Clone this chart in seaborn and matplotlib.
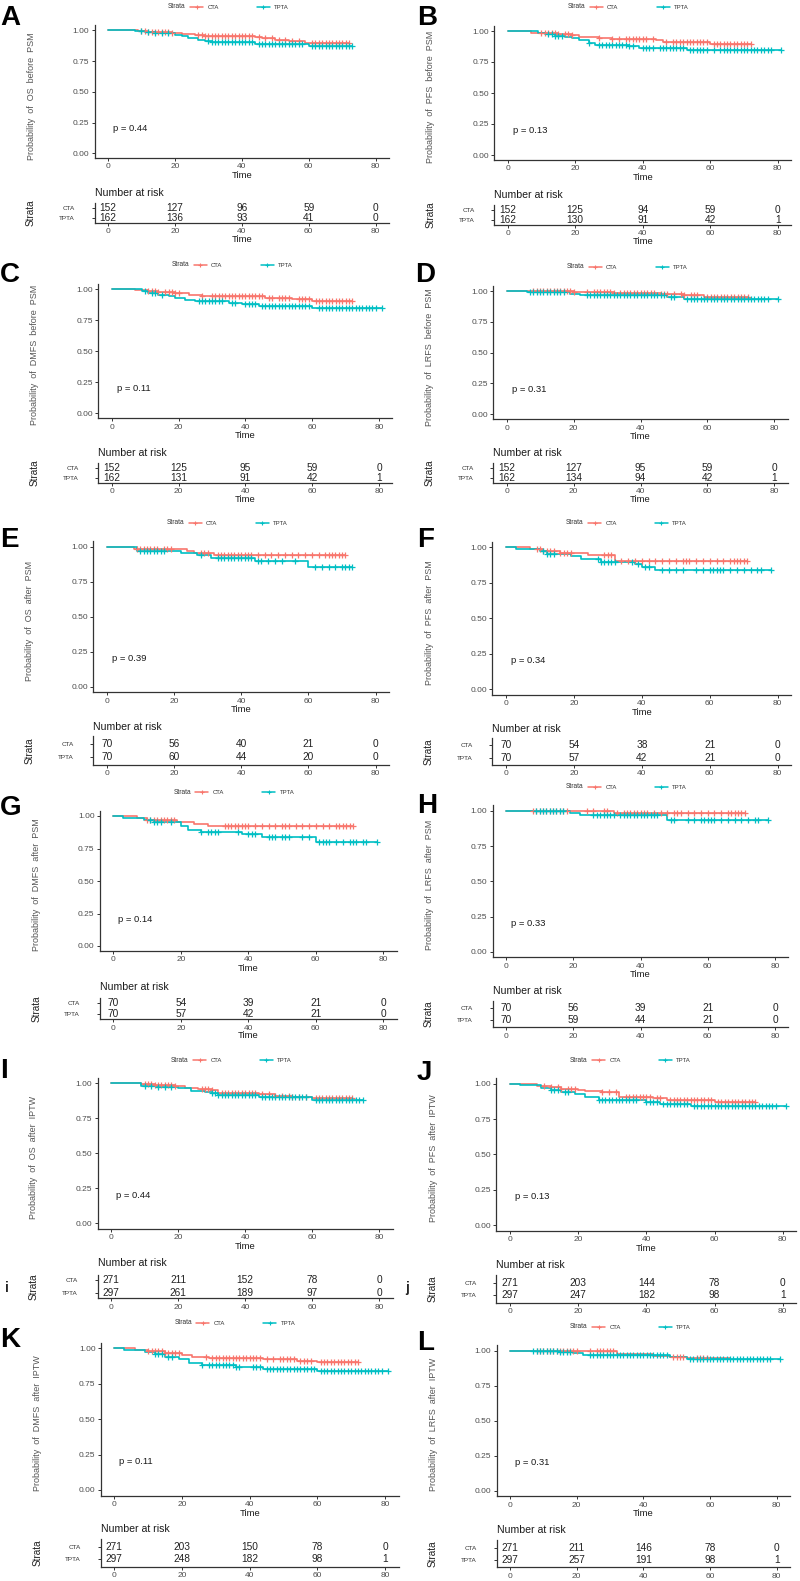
import numpy as np
import matplotlib
matplotlib.use("Agg")
import matplotlib.pyplot as plt
from matplotlib.lines import Line2D
import seaborn as sns

sns.set_theme(style="ticks")
plt.rcParams["font.family"] = ["Liberation Sans", "DejaVu Sans"]

RED = "#F8766D"
TEAL = "#00BFC4"
GROUPS = ["CTA", "TPTA"]
RISK_TIMES = [0, 20, 40, 60, 80]

# ---------------- data ----------------
# step curves: times where survival drops (last entry = end of follow-up)
A_CTA_T = [0, 9, 12, 19, 22, 26, 29, 44, 46, 50, 54, 59, 72]
A_CTA_S = [1.0, 0.993, 0.986, 0.979, 0.972, 0.962, 0.954, 0.945, 0.935, 0.925, 0.913, 0.900, 0.900]
A_TPTA_T = [0, 8, 11, 14, 17, 20, 22, 24, 27, 29, 31, 44, 60, 73]
A_TPTA_S = [1.0, 0.994, 0.988, 0.981, 0.974, 0.962, 0.950, 0.937, 0.925, 0.917, 0.907, 0.889, 0.873, 0.873]
A_CTA_C = [10, 11, 12, 13, 14, 15, 16, 17, 18, 19, 27, 28, 29, 30, 31, 32, 33, 34, 35, 36, 37, 38, 39, 40, 41, 42, 43,
           45, 47, 49, 51, 53, 55, 57, 61, 62, 63, 64, 65, 66, 67, 68, 69, 70, 71, 72]
A_TPTA_C = [10, 12, 14, 16, 18, 30, 31, 32, 33, 34, 35, 36, 37, 38, 39, 40, 41, 42, 43, 45, 46, 47, 48, 49, 50, 51, 52,
            53, 54, 55, 56, 57, 58, 61, 62, 63, 64, 65, 66, 67, 68, 69, 70, 71, 72, 73]

B_CTA_T = [0, 7, 10, 15, 19, 21, 27, 31, 44, 46, 60, 72]
B_CTA_S = [1.0, 0.987, 0.980, 0.973, 0.965, 0.955, 0.946, 0.935, 0.925, 0.912, 0.895, 0.895]
B_TPTA_T = [0, 9, 11, 14, 17, 19, 21, 24, 26, 36, 39, 53, 81]
B_TPTA_S = [1.0, 0.987, 0.975, 0.963, 0.955, 0.940, 0.925, 0.906, 0.890, 0.878, 0.866, 0.847, 0.847]
B_CTA_C = [10, 11, 12, 13, 14, 15, 17, 18, 19, 27, 31, 33, 35, 36, 37, 38, 39, 40, 41, 43, 47, 49, 50, 51, 52, 53, 54,
           55, 56, 57, 58, 59, 61, 62, 63, 64, 65, 66, 67, 68, 69, 70, 71, 72]
B_TPTA_C = [12, 13, 14, 15, 16, 24, 27, 28, 29, 30, 31, 32, 33, 34, 35, 36, 37, 40, 41, 42, 43, 45, 46, 47, 48, 49, 50,
            51, 52, 54, 55, 56, 57, 58, 59, 61, 63, 64, 65, 66, 67, 68, 69, 70, 71, 72, 73, 74, 75, 76, 77, 78, 81]

C_CTA_T = [0, 7, 11, 14, 19, 23, 27, 46, 54, 60, 72]
C_CTA_S = [1.0, 0.990, 0.980, 0.975, 0.965, 0.955, 0.946, 0.930, 0.920, 0.900, 0.900]
C_TPTA_T = [0, 9, 11, 14, 17, 19, 22, 25, 35, 39, 44, 60, 81]
C_TPTA_S = [1.0, 0.985, 0.970, 0.955, 0.945, 0.930, 0.915, 0.903, 0.890, 0.879, 0.866, 0.845, 0.845]
C_CTA_C = [11, 12, 13, 14, 16, 17, 18, 19, 20, 27, 30, 31, 32, 33, 34, 35, 36, 37, 38, 39, 40, 41, 42, 43, 44, 45,
           47, 48, 50, 51, 52, 53, 56, 57, 58, 59, 61, 62, 63, 64, 65, 66, 67, 68, 69, 70, 71, 72]
C_TPTA_C = [10, 12, 13, 15, 26, 27, 28, 29, 30, 31, 32, 33, 36, 37, 40, 41, 42, 43, 45, 46, 47, 48, 49, 50, 51, 52,
            53, 54, 55, 56, 57, 58, 59, 62, 63, 64, 65, 66, 67, 68, 69, 70, 71, 72, 73, 74, 75, 76, 77, 78, 79, 81]

D_CTA_T = [0, 20, 32, 46, 53, 59, 72]
D_CTA_S = [1.0, 0.993, 0.985, 0.978, 0.970, 0.954, 0.954]
D_TPTA_T = [0, 6, 15, 19, 22, 48, 53, 81]
D_TPTA_S = [1.0, 0.994, 0.990, 0.978, 0.968, 0.954, 0.938, 0.938]
D_CTA_C = [8, 9, 10, 11, 12, 13, 14, 15, 16, 17, 18, 19, 20, 24, 26, 27, 28, 29, 30, 31, 32, 34, 35, 36, 37, 38, 39,
           40, 41, 42, 43, 44, 46, 47, 48, 50, 52, 53, 55, 56, 57, 60, 61, 62, 63, 64, 65, 66, 67, 68, 69, 70, 71, 72]
D_TPTA_C = [7, 8, 9, 10, 11, 12, 13, 14, 15, 16, 17, 24, 25, 26, 27, 28, 29, 30, 31, 32, 33, 34, 35, 36, 37, 38, 39,
            40, 41, 42, 43, 44, 45, 46, 47, 49, 50, 54, 55, 56, 57, 58, 59, 60, 61, 62, 63, 64, 65, 66, 67, 68, 69,
            70, 71, 72, 73, 74, 75, 76, 77, 78, 81]

E_CTA_T = [0, 8, 24, 26, 32, 71]
E_CTA_S = [1.0, 0.986, 0.971, 0.957, 0.940, 0.940]
E_TPTA_T = [0, 9, 22, 27, 31, 44, 60, 73]
E_TPTA_S = [1.0, 0.971, 0.955, 0.940, 0.921, 0.898, 0.852, 0.852]
E_CTA_C = [9, 10, 11, 12, 13, 14, 15, 17, 18, 19, 28, 29, 30, 33, 34, 35, 36, 37, 38, 39, 40, 41, 42, 43, 45, 47,
           49, 51, 53, 55, 57, 59, 61, 63, 65, 66, 67, 68, 69, 70, 71]
E_TPTA_C = [10, 11, 12, 13, 14, 15, 16, 17, 28, 33, 34, 35, 36, 37, 38, 39, 40, 41, 42, 43, 45, 46, 48, 50, 52, 56,
            62, 64, 66, 68, 70, 71, 72, 73]

F_CTA_T = [0, 7, 11, 16, 24, 32, 71]
F_CTA_S = [1.0, 0.986, 0.972, 0.958, 0.944, 0.906, 0.906]
F_TPTA_T = [0, 3, 10, 12, 19, 22, 28, 38, 40, 44, 78]
F_TPTA_S = [1.0, 0.985, 0.971, 0.956, 0.940, 0.915, 0.899, 0.880, 0.861, 0.840, 0.840]
F_CTA_C = [9, 10, 11, 12, 13, 14, 16, 17, 18, 19, 29, 30, 31, 34, 36, 38, 40, 42, 44, 46, 48, 50, 52, 53, 54, 56,
           58, 60, 62, 64, 66, 67, 68, 69, 70, 71]
F_TPTA_C = [11, 12, 13, 14, 27, 28, 29, 30, 31, 32, 37, 39, 41, 42, 46, 48, 50, 52, 56, 58, 60, 61, 62, 63, 64, 66,
            68, 70, 72, 74, 75, 78]

G_CTA_T = [0, 7, 10, 19, 24, 28, 71]
G_CTA_S = [1.0, 0.985, 0.970, 0.955, 0.941, 0.923, 0.923]
G_TPTA_T = [0, 3, 9, 12, 20, 22, 26, 38, 44, 60, 78]
G_TPTA_S = [1.0, 0.985, 0.970, 0.952, 0.926, 0.892, 0.880, 0.863, 0.841, 0.800, 0.800]
G_CTA_C = [10, 11, 12, 13, 14, 15, 16, 17, 18, 33, 34, 35, 36, 37, 38, 39, 40, 42, 44, 46, 48, 50, 51, 52, 54, 56,
           58, 60, 62, 64, 66, 67, 68, 69, 70, 71]
G_TPTA_C = [11, 12, 13, 14, 17, 26, 28, 29, 30, 31, 37, 40, 41, 42, 46, 47, 48, 50, 51, 52, 56, 58, 61, 62, 63, 64,
            66, 68, 70, 71, 72, 74, 75, 78]

H_CTA_T = [0, 32, 71]
H_CTA_S = [1.0, 0.983, 0.983]
H_TPTA_T = [0, 19, 22, 48, 78]
H_TPTA_S = [1.0, 0.985, 0.969, 0.936, 0.936]
H_CTA_C = [8, 9, 10, 11, 12, 13, 14, 15, 16, 17, 18, 24, 26, 29, 30, 33, 35, 36, 37, 38, 39, 40, 41, 42, 44, 46, 48,
           50, 51, 52, 54, 56, 58, 60, 62, 64, 66, 67, 68, 69, 70, 71]
H_TPTA_C = [9, 10, 11, 12, 13, 14, 15, 16, 17, 26, 27, 28, 29, 30, 31, 32, 34, 35, 36, 37, 38, 39, 40, 41, 42, 43,
            44, 45, 49, 50, 54, 56, 58, 59, 60, 61, 62, 64, 66, 68, 70, 72, 74, 75, 78]

I_CTA_T = [0, 9, 13, 19, 22, 26, 30, 32, 44, 49, 54, 60, 72]
I_CTA_S = [1.0, 0.993, 0.988, 0.980, 0.969, 0.960, 0.950, 0.933, 0.921, 0.912, 0.905, 0.895, 0.895]
I_TPTA_T = [0, 9, 14, 20, 24, 28, 30, 32, 44, 60, 75]
I_TPTA_S = [1.0, 0.983, 0.975, 0.964, 0.948, 0.938, 0.928, 0.917, 0.900, 0.881, 0.881]
I_CTA_C = [10, 11, 12, 13, 14, 15, 16, 17, 18, 19, 27, 28, 29, 30, 33, 34, 35, 36, 37, 38, 39, 40, 41, 42, 43, 45,
           47, 49, 51, 53, 54, 56, 58, 61, 62, 63, 64, 65, 66, 67, 68, 69, 70, 71, 72]
I_TPTA_C = [10, 12, 14, 16, 18, 30, 31, 32, 33, 34, 35, 36, 37, 38, 39, 40, 41, 42, 43, 45, 46, 47, 48, 49, 50, 51,
            52, 53, 54, 55, 56, 57, 58, 61, 62, 63, 64, 65, 66, 67, 68, 69, 70, 71, 72, 73, 74, 75]

J_CTA_T = [0, 4, 8, 12, 15, 20, 22, 27, 32, 42, 46, 60, 72]
J_CTA_S = [1.0, 0.995, 0.985, 0.975, 0.965, 0.955, 0.948, 0.939, 0.906, 0.896, 0.884, 0.873, 0.873]
J_TPTA_T = [0, 3, 9, 12, 15, 19, 22, 26, 40, 44, 53, 81]
J_TPTA_S = [1.0, 0.990, 0.972, 0.955, 0.941, 0.927, 0.908, 0.882, 0.873, 0.856, 0.842, 0.842]
J_CTA_C = [10, 12, 14, 15, 17, 18, 19, 27, 29, 31, 34, 35, 36, 37, 38, 39, 40, 41, 43, 44, 47, 48, 49, 50, 51, 52,
           53, 54, 55, 56, 57, 58, 59, 61, 62, 63, 64, 65, 66, 67, 68, 69, 70, 71, 72]
J_TPTA_C = [12, 13, 14, 16, 17, 26, 27, 28, 29, 30, 31, 32, 33, 34, 35, 36, 37, 40, 41, 42, 43, 45, 46, 47, 48, 49,
            50, 51, 52, 54, 55, 56, 57, 58, 59, 60, 61, 62, 63, 64, 65, 66, 67, 68, 69, 70, 71, 72, 73, 74, 75, 76,
            77, 78, 81]

K_CTA_T = [0, 6, 10, 15, 20, 23, 28, 44, 54, 60, 72]
K_CTA_S = [1.0, 0.990, 0.981, 0.965, 0.950, 0.941, 0.929, 0.922, 0.912, 0.901, 0.901]
K_TPTA_T = [0, 3, 9, 12, 15, 19, 22, 26, 36, 44, 60, 81]
K_TPTA_S = [1.0, 0.990, 0.976, 0.958, 0.941, 0.922, 0.894, 0.880, 0.871, 0.856, 0.840, 0.840]
K_CTA_C = [10, 11, 12, 13, 14, 15, 16, 17, 18, 19, 27, 29, 30, 31, 32, 33, 34, 35, 36, 37, 38, 39, 40, 41, 42, 43,
           45, 47, 49, 50, 51, 52, 53, 55, 56, 57, 58, 61, 62, 63, 64, 65, 66, 67, 68, 69, 70, 71, 72]
K_TPTA_C = [12, 13, 14, 16, 17, 26, 28, 29, 30, 31, 32, 33, 34, 35, 36, 37, 41, 42, 43, 45, 46, 47, 48, 49, 50, 51,
            52, 53, 54, 55, 56, 57, 58, 59, 61, 62, 63, 64, 65, 66, 67, 68, 69, 70, 71, 72, 73, 74, 75, 76, 77, 78,
            79, 81]

L_CTA_T = [0, 32, 43, 48, 53, 66]
L_CTA_S = [1.0, 0.976, 0.960, 0.955, 0.945, 0.945]
L_TPTA_T = [0, 6, 15, 19, 22, 48, 53, 81]
L_TPTA_S = [1.0, 0.995, 0.990, 0.981, 0.969, 0.955, 0.938, 0.938]
L_CTA_C = [8, 9, 10, 11, 12, 13, 14, 15, 16, 17, 18, 19, 20, 24, 26, 27, 28, 29, 30, 31, 49, 50, 51, 52, 56, 57,
           58, 59]
L_TPTA_C = [7, 8, 9, 10, 11, 12, 13, 14, 15, 16, 17, 18, 24, 25, 26, 27, 28, 29, 30, 31, 32, 33, 34, 35, 36, 37, 38,
            39, 40, 41, 42, 43, 44, 45, 46, 47, 54, 55, 56, 57, 58, 59, 60, 61, 62, 63, 64, 65, 66, 67, 68, 69, 70,
            71, 72, 73, 74, 75, 76, 77, 78, 81]

# number at risk at 0, 20, 40, 60, 80
A_RISK = [[152, 127, 96, 59, 0], [162, 136, 93, 41, 0]]
B_RISK = [[152, 125, 94, 59, 0], [162, 130, 91, 42, 1]]
C_RISK = [[152, 125, 95, 59, 0], [162, 131, 91, 42, 1]]
D_RISK = [[152, 127, 95, 59, 0], [162, 134, 94, 42, 1]]
E_RISK = [[70, 56, 40, 21, 0], [70, 60, 44, 20, 0]]
F_RISK = [[70, 54, 38, 21, 0], [70, 57, 42, 21, 0]]
G_RISK = [[70, 54, 39, 21, 0], [70, 57, 42, 21, 0]]
H_RISK = [[70, 56, 39, 21, 0], [70, 59, 44, 21, 0]]
I_RISK = [[271, 211, 152, 78, 0], [297, 261, 189, 97, 0]]
J_RISK = [[271, 203, 144, 78, 0], [297, 247, 182, 98, 1]]
K_RISK = [[271, 203, 150, 78, 0], [297, 248, 182, 98, 1]]
L_RISK = [[271, 211, 146, 78, 0], [297, 257, 191, 98, 1]]

PVALUES = ["0.44", "0.13", "0.11", "0.31", "0.39", "0.34", "0.14", "0.33", "0.44", "0.13", "0.11", "0.31"]

PANELS = [
    ("A", "OS", "before PSM", A_CTA_T, A_CTA_S, A_CTA_C, A_TPTA_T, A_TPTA_S, A_TPTA_C, A_RISK),
    ("B", "PFS", "before PSM", B_CTA_T, B_CTA_S, B_CTA_C, B_TPTA_T, B_TPTA_S, B_TPTA_C, B_RISK),
    ("C", "DMFS", "before PSM", C_CTA_T, C_CTA_S, C_CTA_C, C_TPTA_T, C_TPTA_S, C_TPTA_C, C_RISK),
    ("D", "LRFS", "before PSM", D_CTA_T, D_CTA_S, D_CTA_C, D_TPTA_T, D_TPTA_S, D_TPTA_C, D_RISK),
    ("E", "OS", "after PSM", E_CTA_T, E_CTA_S, E_CTA_C, E_TPTA_T, E_TPTA_S, E_TPTA_C, E_RISK),
    ("F", "PFS", "after PSM", F_CTA_T, F_CTA_S, F_CTA_C, F_TPTA_T, F_TPTA_S, F_TPTA_C, F_RISK),
    ("G", "DMFS", "after PSM", G_CTA_T, G_CTA_S, G_CTA_C, G_TPTA_T, G_TPTA_S, G_TPTA_C, G_RISK),
    ("H", "LRFS", "after PSM", H_CTA_T, H_CTA_S, H_CTA_C, H_TPTA_T, H_TPTA_S, H_TPTA_C, H_RISK),
    ("I", "OS", "after IPTW", I_CTA_T, I_CTA_S, I_CTA_C, I_TPTA_T, I_TPTA_S, I_TPTA_C, I_RISK),
    ("J", "PFS", "after IPTW", J_CTA_T, J_CTA_S, J_CTA_C, J_TPTA_T, J_TPTA_S, J_TPTA_C, J_RISK),
    ("K", "DMFS", "after IPTW", K_CTA_T, K_CTA_S, K_CTA_C, K_TPTA_T, K_TPTA_S, K_TPTA_C, K_RISK),
    ("L", "LRFS", "after IPTW", L_CTA_T, L_CTA_S, L_CTA_C, L_TPTA_T, L_TPTA_S, L_TPTA_C, L_RISK),
]

# ---------------- layout (pixels in the 800x1581 canvas) ----------------
# x0, x80, y100, y0, nar_y, cta_y, tpta_y, spine_y, legend_y, letter_x, letter_y, table_time
LAYOUT = [
    (108, 375.7, 30.3, 153.3, 193, 208, 218, 223, 7, 0, 5, True),
    (507.7, 777.7, 31, 155, 195, 210, 220, 225, 7, 417, 5, True),
    (111.7, 379, 289, 413.3, 453, 468, 478, 483, 265, 0, 262, True),
    (506.7, 774.3, 291, 414.3, 453, 468, 478, 483, 267, 415, 262, True),
    (106.7, 375.7, 546.7, 686.7, 726.7, 744, 756.7, 765, 523, 0, 527, False),
    (506, 777.7, 547.3, 689, 729, 745, 758.3, 765, 523, 417, 527, False),
    (113.3, 383.3, 816, 946, 987.3, 1003.3, 1014, 1019.3, 792, 0, 795, True),
    (506, 775, 811, 951.7, 990.7, 1008.3, 1020, 1027.3, 787, 417, 793, False),
    (111, 379.3, 1083.3, 1223.3, 1262.7, 1280, 1293.3, 1298.3, 1060, 0, 1058, False),
    (510, 782.7, 1083.7, 1225, 1265.3, 1282.7, 1295, 1302.7, 1060, 417, 1060, False),
    (114.3, 385, 1348.3, 1490, 1529.3, 1546.7, 1559.3, 1566.7, 1323, 0, 1327, False),
    (510, 776.7, 1350.7, 1490.7, 1530, 1547.7, 1560, 1567.3, 1327, 417, 1330, False),
]

W, H = 800, 1581
XMIN, XMAX = -4, 84
YPAD = 0.04
AXIS_COL = "#333333"
TICK_COL = "#4D4D4D"


def fx(x):
    return x / W


def fy(y):
    return 1 - y / H


def rect(left, top, right, bottom):
    return [fx(left), fy(bottom), (right - left) / W, (bottom - top) / H]


def surv_at(times, surv, pts):
    idx = np.searchsorted(np.asarray(times), np.asarray(pts), side="right") - 1
    return np.asarray(surv)[idx]


def style_axes(ax):
    sns.despine(ax=ax)
    for side in ("left", "bottom"):
        ax.spines[side].set_color(AXIS_COL)
        ax.spines[side].set_linewidth(0.9)
    ax.tick_params(axis="both", length=2.2, width=0.7, color=AXIS_COL,
                   labelsize=6.0, labelcolor=TICK_COL, pad=1.6)
    ax.set_xlim(XMIN, XMAX)
    ax.set_xticks(RISK_TIMES)
    ax.set_xlabel("")
    ax.set_ylabel("")


fig = plt.figure(figsize=(W / 100, H / 100), dpi=100)

for i, (panel, geo) in enumerate(zip(PANELS, LAYOUT)):
    label, endpoint, stage, ct, cs, cc, tt, ts, tc, risk = panel
    x0, x80, y100, y0, nar_y, cta_y, tpta_y, spine_y, leg_y, let_x, let_y, table_time = geo
    s = (x80 - x0) / 80.0
    k = y0 - y100
    left, right = x0 + XMIN * s, x0 + XMAX * s
    top, bottom = y100 - YPAD * k, y0 + YPAD * k

    # survival curves
    ax = fig.add_axes(rect(left, top, right, bottom))
    for times, surv, cens, col in [(ct, cs, cc, RED), (tt, ts, tc, TEAL)]:
        sns.lineplot(x=times, y=surv, drawstyle="steps-post", estimator=None, errorbar=None,
                     sort=False, color=col, linewidth=1.2, ax=ax, legend=False)
        sns.scatterplot(x=cens, y=surv_at(times, surv, cens), marker="+", s=24, color=col,
                        linewidth=0.9, ax=ax, legend=False, zorder=3)
    style_axes(ax)
    ax.set_ylim(-YPAD, 1 + YPAD)
    ax.set_yticks([0, 0.25, 0.5, 0.75, 1.0])
    ax.set_yticklabels(["0.00", "0.25", "0.50", "0.75", "1.00"])
    ax.text(1.5, 0.2, "p = " + PVALUES[i], fontsize=6.8, color="#1a1a1a", ha="left", va="center")
    fig.text(fx((left + right) / 2), fy(bottom + 17.5), "Time", fontsize=6.8,
             color="#1a1a1a", ha="center", va="center")
    fig.text(fx(x0 - 77), fy((top + bottom) / 2 + 4),
             "Probability  of  " + endpoint + "  " + stage.replace(" ", "  "),
             rotation=90, fontsize=6.5, color="#555555", ha="center", va="center")

    # legend on top
    fig.text(fx(x0 + 60), fy(leg_y), "Strata", fontsize=4.8, color="#333333", ha="left", va="center")
    handles = [Line2D([], [], color=c, lw=1.1, marker="+", ms=3.5, mew=0.8) for c in (RED, TEAL)]
    fig.legend(handles, GROUPS, loc="center left", bbox_to_anchor=(fx(x0 + 82), fy(leg_y)), ncol=2,
               frameon=False, fontsize=4.3, handlelength=2.2, handletextpad=0.7, columnspacing=6.4,
               borderpad=0, borderaxespad=0, labelcolor="#333333")

    # risk table
    d = tpta_y - cta_y
    m = spine_y - tpta_y
    tax = fig.add_axes(rect(left, cta_y - m, right, spine_y))
    for row, counts in zip([2, 1], risk):
        for t, n in zip(RISK_TIMES, counts):
            tax.text(t, row, str(n), fontsize=7.3, color="#222222", ha="center", va="center")
    style_axes(tax)
    tax.set_ylim(1 - m / d, 2 + m / d)
    tax.set_yticks([2, 1])
    tax.set_yticklabels(GROUPS)
    tax.tick_params(axis="y", labelsize=4.6, labelcolor="#333333", pad=12)
    fig.text(fx(left), fy(nar_y), "Number at risk", fontsize=7.6, color="#1a1a1a", ha="left", va="center")
    fig.text(fx(x0 - 77), fy((cta_y + tpta_y) / 2), "Strata", rotation=90, fontsize=7.2,
             color="#222222", ha="center", va="center")
    if table_time:
        fig.text(fx((left + right) / 2), fy(spine_y + 16.5), "Time", fontsize=6.8,
                 color="#1a1a1a", ha="center", va="center")

    # panel letter
    fig.text(fx(let_x), fy(let_y), label, fontsize=20, fontweight="bold", color="black",
             ha="left", va="top")

# small sub-labels beside the IPTW risk tables
fig.text(fx(5), fy(1288), "i", fontsize=10, fontweight="bold", ha="left", va="center")
fig.text(fx(405), fy(1288), "j", fontsize=10, fontweight="bold", ha="left", va="center")

fig.savefig("out.png", dpi=100)
